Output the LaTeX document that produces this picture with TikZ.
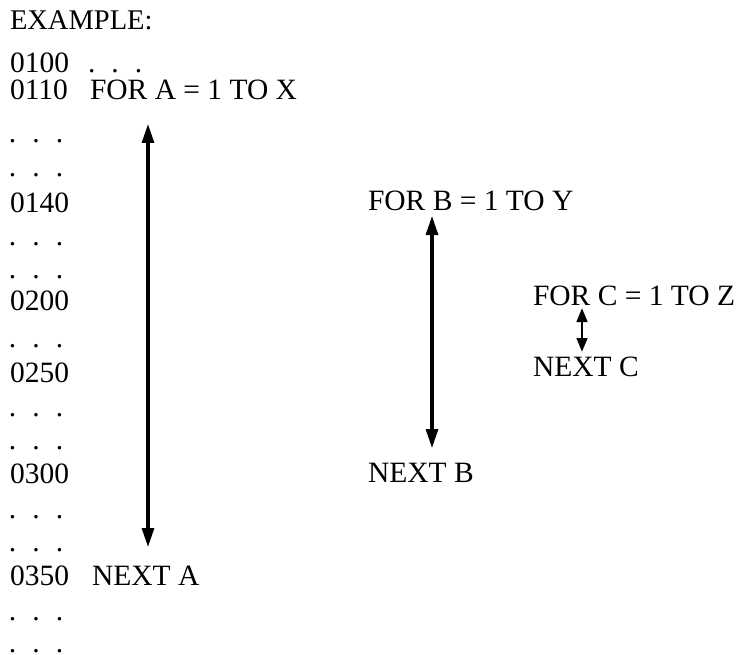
\documentclass[tikz,border=0pt]{standalone}
\usepackage{fontspec}
\setmainfont{Liberation Serif}
\usetikzlibrary{arrows.meta}

% a row of three spaced periods
\newcommand{\dotrow}{.\hspace{16.1pt}.\hspace{16.1pt}.}

\begin{document}
\begin{tikzpicture}[x=1pt,y=-1pt,
  txt/.style={anchor=base west,inner sep=0pt,outer sep=0pt,
    font=\fontsize{29.5}{30}\selectfont},
  loop/.style={line width=3.2pt,{Triangle[length=19pt,width=12pt]}-{Triangle[length=19pt,width=12pt]}},
  shortloop/.style={line width=2.8pt,{Triangle[length=14pt,width=10.5pt]}-{Triangle[length=14pt,width=10.5pt]}}]
\useasboundingbox (0,0) rectangle (746,655);

% heading
\node[txt,font=\fontsize{28.5}{30}\selectfont] (head) at (10,30) {EXAMPLE:};

% line numbers and statements
\node[txt] (l0100) at (10,73) {0100};
\node[txt] (d0100) at (88,73) {\dotrow};
\node[txt] (l0110) at (10,100) {0110};
\node[txt] (fora) at (90,100) {FOR A = 1 TO X};
\node[txt] (r1) at (9,143) {\dotrow};
\node[txt] (r2) at (9,176) {\dotrow};
\node[txt] (l0140) at (10,212) {0140};
\node[txt] (forb) at (368,210) {FOR B = 1 TO Y};
\node[txt] (r3) at (9,245) {\dotrow};
\node[txt] (r4) at (9,278) {\dotrow};
\node[txt] (l0200) at (10,310) {0200};
\node[txt] (forc) at (533,305) {FOR C = 1 TO Z};
\node[txt] (r5) at (9,347) {\dotrow};
\node[txt] (l0250) at (10,382) {0250};
\node[txt] (nextc) at (533,376) {NEXT C};
\node[txt] (r6) at (9,416) {\dotrow};
\node[txt] (r7) at (9,449) {\dotrow};
\node[txt] (l0300) at (10,483) {0300};
\node[txt] (nextb) at (368,482) {NEXT B};
\node[txt] (r8) at (9,518) {\dotrow};
\node[txt] (r9) at (9,551) {\dotrow};
\node[txt] (l0350) at (10,585) {0350};
\node[txt] (nexta) at (92,585) {NEXT A};
\node[txt] (r10) at (9,620) {\dotrow};
\node[txt] (r11) at (9,652.5) {\dotrow};

% loop extents
\coordinate (aTop) at (148,124);
\coordinate (aBot) at (148,547);
\coordinate (bTop) at (432,216);
\coordinate (bBot) at (432,448);
\coordinate (cTop) at (582,308);
\coordinate (cBot) at (582,352);

\draw[loop] (aTop) -- (aBot);
\draw[loop] (bTop) -- (bBot);
\draw[shortloop] (cTop) -- (cBot);
\end{tikzpicture}
\end{document}
